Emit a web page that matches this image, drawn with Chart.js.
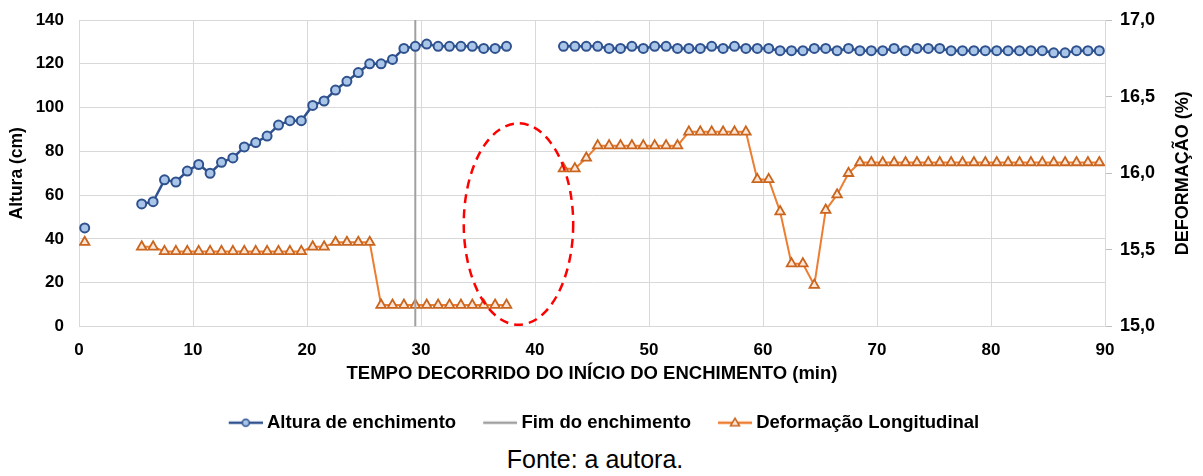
<!DOCTYPE html>
<html lang="pt">
<head>
<meta charset="utf-8">
<script src="https://cdn.jsdelivr.net/npm/chart.js@4.4.1/dist/chart.umd.min.js"></script>
<style>
  html, body { margin: 0; padding: 0; background: #fff; }
  #wrap { position: relative; width: 1203px; height: 476px; }
  #fonte { position: absolute; left: 0; width: 1190px; top: 445px; text-align: center;
           font: 25px 'Liberation Sans', Arial, sans-serif; color: #000; }
</style>
</head>
<body>
<div id="wrap">
  <canvas id="grafico" width="1203" height="442"></canvas>
  <div id="fonte">Fonte: a autora.</div>
</div>
<script>
// tempo (min) desde o início do enchimento, uma leitura por minuto
const tempo = [
   0.5,  1.5,  2.5,  3.5,  4.5,  5.5,  6.5,  7.5,  8.5,  9.5,
  10.5, 11.5, 12.5, 13.5, 14.5, 15.5, 16.5, 17.5, 18.5, 19.5,
  20.5, 21.5, 22.5, 23.5, 24.5, 25.5, 26.5, 27.5, 28.5, 29.5,
  30.5, 31.5, 32.5, 33.5, 34.5, 35.5, 36.5, 37.5, 38.5, 39.5,
  40.5, 41.5, 42.5, 43.5, 44.5, 45.5, 46.5, 47.5, 48.5, 49.5,
  50.5, 51.5, 52.5, 53.5, 54.5, 55.5, 56.5, 57.5, 58.5, 59.5,
  60.5, 61.5, 62.5, 63.5, 64.5, 65.5, 66.5, 67.5, 68.5, 69.5,
  70.5, 71.5, 72.5, 73.5, 74.5, 75.5, 76.5, 77.5, 78.5, 79.5,
  80.5, 81.5, 82.5, 83.5, 84.5, 85.5, 86.5, 87.5, 88.5, 89.5
];

// altura de enchimento (cm); null = sem leitura
const altura = [
   45, null, null, null, null,  56,  57,  67,  66,  71,
   74,  70,  75,  77,  82,  84,  87,  92,  94,  94,
  101, 103, 108, 112, 116, 120, 120, 122, 127, 128,
  129, 128, 128, 128, 128, 127, 127, 128, null, null,
  null, null, 128, 128, 128, 128, 127, 127, 128, 127,
  128, 128, 127, 127, 127, 128, 127, 128, 127, 127,
  127, 126, 126, 126, 127, 127, 126, 127, 126, 126,
  126, 127, 126, 127, 127, 127, 126, 126, 126, 126,
  126, 126, 126, 126, 126, 125, 125, 126, 126, 126
];

// deformação longitudinal (%)
const deformacao = [
  15.55,  null,  null,  null,  null, 15.52, 15.52, 15.49, 15.49, 15.49,
  15.49, 15.49, 15.49, 15.49, 15.49, 15.49, 15.49, 15.49, 15.49, 15.49,
  15.52, 15.52, 15.55, 15.55, 15.55, 15.55, 15.14, 15.14, 15.14, 15.14,
  15.14, 15.14, 15.14, 15.14, 15.14, 15.14, 15.14, 15.14,  null,  null,
   null,  null, 16.03, 16.03, 16.10, 16.18, 16.18, 16.18, 16.18, 16.18,
  16.18, 16.18, 16.18, 16.27, 16.27, 16.27, 16.27, 16.27, 16.27, 15.96,
  15.96, 15.75, 15.41, 15.41, 15.27, 15.76, 15.86, 16.00, 16.07, 16.07,
  16.07, 16.07, 16.07, 16.07, 16.07, 16.07, 16.07, 16.07, 16.07, 16.07,
  16.07, 16.07, 16.07, 16.07, 16.07, 16.07, 16.07, 16.07, 16.07, 16.07
];

const fimEnchimento = 29.5;        // min
const alturaEixo = [0, 140];       // extremos da linha vertical (cm)

// elipse tracejada marcando o intervalo sem leitura (min / cm)
const lacuna = { x: 38.55, y: 46.8, rx: 4.8, ry: 46 };

const FONTE = "'Liberation Sans', Arial, sans-serif";
const AZUL = '#2f528f', AZUL_CLARO = '#a9c5e8';
const LARANJA = '#ed7d31', LARANJA_ESCURO = '#c9651f', LARANJA_CLARO = '#fde6d6';
const CINZA = '#a0a0a0', GRADE = '#d9d9d9';

const pontos = (ys) => tempo.map((t, i) => ({ x: t, y: ys[i] }));

// ícones de legenda: traço + marcador
function icone(cor, marcador) {
  const c = document.createElement('canvas');
  c.width = 44; c.height = 14;
  const g = c.getContext('2d');
  g.strokeStyle = cor; g.lineWidth = 2.5;
  g.beginPath(); g.moveTo(10, 7); g.lineTo(44, 7); g.stroke();
  if (marcador === 'circulo') {
    g.beginPath(); g.arc(27, 7, 3.5, 0, Math.PI * 2);
    g.fillStyle = AZUL_CLARO; g.fill();
    g.lineWidth = 1.5; g.strokeStyle = AZUL; g.stroke();
  } else if (marcador === 'triangulo') {
    g.beginPath(); g.moveTo(27, 2.5); g.lineTo(31.5, 10); g.lineTo(22.5, 10); g.closePath();
    g.fillStyle = LARANJA_CLARO; g.fill();
    g.lineWidth = 1.5; g.strokeStyle = LARANJA_ESCURO; g.stroke();
  }
  return c;
}
const icones = [icone(AZUL, 'circulo'), icone(CINZA, null), icone(LARANJA, 'triangulo')];

// título do eixo direito, lido de baixo para cima
const tituloDireito = {
  id: 'tituloDireito',
  afterDraw(chart) {
    const s = chart.scales.y1, ctx = chart.ctx;
    ctx.save();
    ctx.translate(s.right - 20, (chart.chartArea.top + chart.chartArea.bottom) / 2);
    ctx.rotate(-Math.PI / 2);
    ctx.font = 'bold 18px ' + FONTE;
    ctx.fillStyle = '#000';
    ctx.textAlign = 'center'; ctx.textBaseline = 'middle';
    ctx.fillText('DEFORMAÇÃO (%)', 0, 0);
    ctx.restore();
  }
};

const elipse = {
  id: 'elipse',
  afterDatasetsDraw(chart) {
    const { x, y } = chart.scales, ctx = chart.ctx;
    const cx = x.getPixelForValue(lacuna.x), cy = y.getPixelForValue(lacuna.y);
    const rx = x.getPixelForValue(lacuna.x + lacuna.rx) - cx;
    const ry = cy - y.getPixelForValue(lacuna.y + lacuna.ry);
    ctx.save();
    ctx.strokeStyle = '#ff0000'; ctx.lineWidth = 2.5; ctx.setLineDash([9, 6]);
    ctx.beginPath(); ctx.ellipse(cx, cy, rx, ry, 0, 0, Math.PI * 2); ctx.stroke();
    ctx.restore();
  }
};

const fonteTick = { family: FONTE, size: 17, weight: 'bold' };

// eixos verticais com largura fixa e sem folga extra para os rótulos
const larguraFixa = (w) => (s) => { s.width = w; s.paddingTop = 0; s.paddingBottom = 0; };

new Chart(document.getElementById('grafico'), {
  type: 'line',
  data: {
    datasets: [
      {
        label: 'Altura de enchimento', data: pontos(altura), yAxisID: 'y',
        borderColor: AZUL, borderWidth: 2.5, pointStyle: 'circle', pointRadius: 4.5,
        pointBorderWidth: 2, pointBorderColor: AZUL, pointBackgroundColor: AZUL_CLARO
      },
      {
        label: 'Fim do enchimento', yAxisID: 'y',
        data: alturaEixo.map(v => ({ x: fimEnchimento, y: v })),
        borderColor: CINZA, borderWidth: 2, pointRadius: 0
      },
      {
        label: 'Deformação Longitudinal', data: pontos(deformacao), yAxisID: 'y1',
        borderColor: LARANJA, borderWidth: 2, pointStyle: 'triangle', pointRadius: 5.5,
        pointBorderWidth: 1.8, pointBorderColor: LARANJA_ESCURO, pointBackgroundColor: LARANJA_CLARO
      }
    ]
  },
  options: {
    responsive: false,
    animation: false,
    layout: { padding: { top: 20, right: 0, bottom: 0, left: 0 } },
    scales: {
      x: {
        type: 'linear', min: 0, max: 90,
        ticks: { stepSize: 10, color: '#000', font: fonteTick, padding: 14 },
        grid: { color: GRADE, drawTicks: false },
        border: { color: GRADE },
        title: { display: true, text: 'TEMPO DECORRIDO DO INÍCIO DO ENCHIMENTO (min)', color: '#000',
                 font: { family: FONTE, size: 18.5, weight: 'bold' }, padding: { top: 0, bottom: 6 } },
        afterFit: (s) => { s.height = 65; s.paddingLeft = 0; s.paddingRight = 0; }
      },
      y: {
        position: 'left', min: 0, max: 140,
        ticks: { stepSize: 20, color: '#000', font: fonteTick, padding: 15 },
        grid: { color: GRADE, drawTicks: false },
        border: { color: GRADE },
        title: { display: true, text: 'Altura (cm)', color: '#000',
                 font: { family: FONTE, size: 17.5, weight: 'bold' }, padding: { top: 7, bottom: 0 } },
        afterFit: larguraFixa(79)
      },
      y1: {
        position: 'right', min: 15, max: 17,
        ticks: { stepSize: 0.5, color: '#000', font: { family: FONTE, size: 18, weight: 'bold' }, padding: 8,
                 callback: (v) => v.toFixed(1).replace('.', ',') },
        grid: { drawOnChartArea: false, drawTicks: true, tickLength: 7, tickColor: '#bfbfbf' },
        border: { color: GRADE },
        afterFit: larguraFixa(98)
      }
    },
    plugins: {
      legend: {
        position: 'bottom',
        labels: {
          usePointStyle: true, pointStyleWidth: 34, padding: 22,
          color: '#000', font: { family: FONTE, size: 18.5, weight: 'bold' },
          generateLabels: (chart) => Chart.defaults.plugins.legend.labels.generateLabels(chart)
            .map((it, i) => Object.assign(it, { pointStyle: icones[i] }))
        }
      },
      tooltip: { enabled: false }
    }
  },
  plugins: [tituloDireito, elipse]
});
</script>
</body>
</html>
